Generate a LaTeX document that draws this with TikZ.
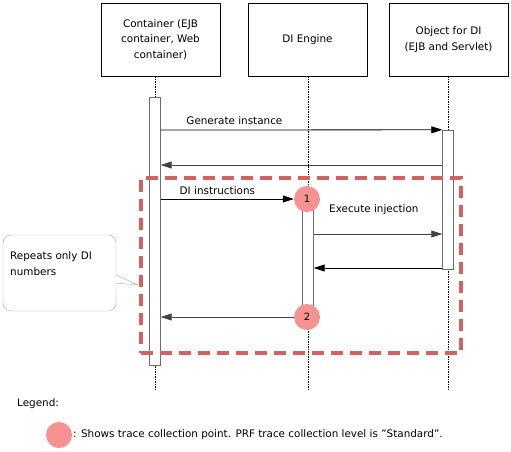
\documentclass[tikz,border=0pt]{standalone}
\usepackage{fontspec}
\setmainfont{DejaVu Sans}
\usetikzlibrary{arrows.meta}
\definecolor{tracepink}{RGB}{246,146,146}
\definecolor{loopred}{RGB}{212,96,96}
\definecolor{bargray}{RGB}{110,110,110}
\tikzset{
  actor/.style={draw, thick, minimum width=119pt, minimum height=73pt, align=center, font=\fontsize{10.4}{15.5}\selectfont},
  life/.style={thin, dash pattern=on 1.5pt off 1pt},
  actbar/.style={draw=bargray, fill=white, minimum width=11pt, inner sep=0pt},
  msg/.style={-{Triangle[length=11pt,width=7pt]}, line width=0.8pt},
  trace/.style={circle, fill=tracepink, minimum size=26pt, inner sep=0pt, font=\fontsize{10}{10}\selectfont},
  lbl/.style={font=\fontsize{10.4}{16}\selectfont, inner sep=0pt}
}
\begin{document}
\begin{tikzpicture}[x=1pt,y=-1pt]
\useasboundingbox (0,0) rectangle (511,451);
% lifelines
\node[actor] (cont) at (160.5,39.5) {Container (EJB\\container, Web\\container)};
\node[actor] (engine) at (307.5,39.5) {DI Engine};
\node[actor] (obj) at (448.5,39.5) {Object for DI\\(EJB and Servlet)};
\coordinate (cend) at (155,390);
\coordinate (eend) at (308,390);
\coordinate (oend) at (448,390);
\draw[life] (cont.south -| cend) -- (cend);
\draw[life] (engine.south -| eend) -- (eend);
\draw[life] (obj.south -| oend) -- (oend);
% activation bars
\node[actbar, minimum height=268pt] (act1) at (155,231) {};
\node[actbar, minimum height=139pt] (act3) at (448,199.5) {};
\node[actbar, minimum height=118pt] (act2) at (308,258) {};
% trace points
\node[trace] (tp1) at (307,199) {1};
\node[trace] (tp2) at (307,317) {2};
% messages
\draw[msg] (act1.east |- 0,130) -- node[lbl, pos=0.09, anchor=south west, yshift=5pt] {Generate instance} (act3.north west);
\draw[msg, bargray!60!black] (act3.west |- 0,165) -- (act1.east |- 0,165);
\draw[msg] (act1.east |- tp1) -- node[lbl, pos=0.14, anchor=south west, yshift=4pt] {DI instructions} (tp1.west);
\node[lbl, anchor=west] (exec) at (329,210) {Execute injection};
\draw[msg, bargray!60!black] (act2.east |- 0,234) -- (act3.west |- 0,234);
\draw[msg] (act3.west |- 0,268) -- (act2.east |- 0,268);
\draw[msg, bargray!60!black] (tp2.west) -- (act1.east |- tp2);
% repeated part
\node[draw=loopred, line width=3.4pt, dash pattern=on 12pt off 7pt, minimum width=320pt, minimum height=175pt] (loop) at (301,265.5) {};
\coordinate (tip) at (138,285);
\draw[gray!70] (116,275) -- (tip) -- (116,283) -- (116,303) arc[start angle=0, end angle=90, radius=8] -- (11,311) arc[start angle=90, end angle=180, radius=8] -- (3,243) arc[start angle=180, end angle=270, radius=8] -- (108,235) arc[start angle=270, end angle=360, radius=8] -- cycle;
\node[lbl, anchor=north west, align=left] (note) at (10,251) {Repeats only DI\\numbers};
% legend
\node[lbl, anchor=west] (legend) at (17,404) {Legend:};
\node[trace] (legdot) at (59,435) {};
\node[lbl, anchor=west] (legtext) at (73,435) {: Shows trace collection point. PRF trace collection level is ”Standard”.};
\end{tikzpicture}
\end{document}
